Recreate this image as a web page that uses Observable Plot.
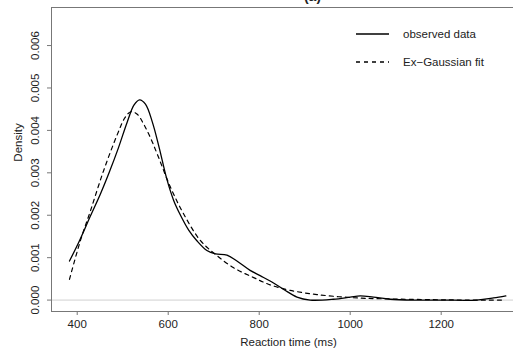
<!DOCTYPE html>
<html>
<head>
<meta charset="utf-8">
<script src="https://cdn.jsdelivr.net/npm/d3@7"></script>
<script src="https://cdn.jsdelivr.net/npm/@observablehq/plot@0.6"></script>
<style>
  body { margin: 0; background: #fff; }
  #wrap { position: relative; width: 513px; height: 350px; font-family: "Liberation Sans", Arial, sans-serif; }
  #legend { position: absolute; left: 356px; top: 0; font-size: 11.5px; color: #222; }
  .row { position: absolute; left: 0; width: 150px; height: 14px; display: flex; align-items: center; white-space: nowrap; }
  .row svg { width: 33px; height: 14px; margin-right: 14px; }
</style>
</head>
<body>
<div id="wrap"><div id="legend"></div></div>
<script>
// Observed data density (solid)
const observedRT = [383, 405, 429, 451, 470, 490, 510, 525, 537, 550, 565, 580, 597, 612, 627, 645, 663, 685, 704, 729, 751, 780, 803, 824, 854, 883, 912, 963, 1000, 1022, 1051, 1088, 1146, 1200, 1278, 1315, 1342];
const observedDensity = [0.00092, 0.00140, 0.00198, 0.00250, 0.00300, 0.00357, 0.00420, 0.00460, 0.00472, 0.00462, 0.00420, 0.00360, 0.00285, 0.00235, 0.00200, 0.00165, 0.00140, 0.00117, 0.00109, 0.00106, 0.00092, 0.00070, 0.00057, 0.00045, 0.00025, 0.00007, 0.00000, 0.00002, 0.00007, 0.00010, 0.00007, 0.00002, 0.00000, 0.00000, 0.00000, 0.00005, 0.00010];
// Ex-Gaussian fit (dashed)
const fitRT = [383, 407, 429, 458, 488, 505, 518, 532, 546, 560, 576, 605, 634, 671, 707, 744, 788, 824, 868, 927, 1000, 1073, 1182, 1260, 1336];
const fitDensity = [0.00049, 0.00140, 0.00210, 0.00305, 0.00390, 0.00430, 0.00444, 0.00438, 0.00415, 0.00385, 0.00344, 0.00266, 0.00203, 0.00140, 0.00105, 0.00076, 0.00053, 0.00036, 0.00023, 0.00013, 0.00006, 0.00003, 0.00001, 0.00000, 0.00000];

const xTicks = [400, 600, 800, 1000, 1200];
const yTicks = [0, 0.001, 0.002, 0.003, 0.004, 0.005, 0.006];
const xDomain = [343.5, 1358.9];
const yDomain = [-0.000269, 0.006897];
const seriesNames = ["observed data", "Ex\u2212Gaussian fit"];
const titleText = "(a)";
const xLabel = "Reaction time (ms)";
const yLabel = "Density";

const observed = observedRT.map((x, i) => ({x, y: observedDensity[i]}));
const fit = fitRT.map((x, i) => ({x, y: fitDensity[i]}));

const frameColor = "#777";
const textColor = "#222";

const chart = Plot.plot({
  width: 513,
  height: 350,
  marginLeft: 51,
  marginRight: 0,
  marginTop: 7,
  marginBottom: 39,
  x: {domain: xDomain},
  y: {domain: yDomain},
  style: {fontFamily: "'Liberation Sans', Arial, sans-serif", fontSize: "11.5px", color: textColor, background: "#fff"},
  marks: [
    Plot.ruleY([0], {stroke: "#d0d0d0", strokeWidth: 1}),
    Plot.ruleY([yDomain[0], yDomain[1]], {stroke: frameColor}),
    Plot.ruleX([xDomain[0]], {stroke: frameColor}),
    Plot.axisX(xTicks, {tickSize: 4, tickPadding: 4, stroke: frameColor, fill: textColor, label: null, tickFormat: d => String(d)}),
    Plot.axisY(yTicks, {tickSize: 4, stroke: frameColor, fill: "none", label: null}),
    Plot.text(yTicks, {y: d => d, text: d => d3.format(".3f")(d), frameAnchor: "left", dx: -16, rotate: -90, textAnchor: "middle", lineAnchor: "middle", fill: textColor}),
    Plot.text([yLabel], {frameAnchor: "left", dx: -33, dy: -17, rotate: -90, textAnchor: "middle", lineAnchor: "middle", fill: textColor}),
    Plot.text([xLabel], {frameAnchor: "bottom", dx: 6, dy: 31, textAnchor: "middle", lineAnchor: "middle", fill: textColor}),
    Plot.text([titleText], {frameAnchor: "top", dx: 30, dy: -7, lineAnchor: "bottom", fontWeight: "bold", fontSize: 14, fill: textColor}),
    Plot.line(fit, {x: "x", y: "y", curve: "catmull-rom", stroke: "#000", strokeWidth: 1.2, strokeDasharray: "4,4"}),
    Plot.line(observed, {x: "x", y: "y", curve: "catmull-rom", stroke: "#000", strokeWidth: 1.3})
  ]
});
const wrap = document.getElementById("wrap");
wrap.insertBefore(chart, wrap.firstChild);

const legend = document.getElementById("legend");
const rowTops = [27, 55];
const dashes = ["none", "4,4"];
seriesNames.forEach((name, i) => {
  const row = document.createElement("div");
  row.className = "row";
  row.style.top = rowTops[i] + "px";
  row.innerHTML = `<svg viewBox="0 0 33 14"><line x1="0" x2="33" y1="7" y2="7" stroke="#000" stroke-width="1.3" stroke-dasharray="${dashes[i]}"/></svg><span>${name}</span>`;
  legend.appendChild(row);
});
</script>
</body>
</html>
